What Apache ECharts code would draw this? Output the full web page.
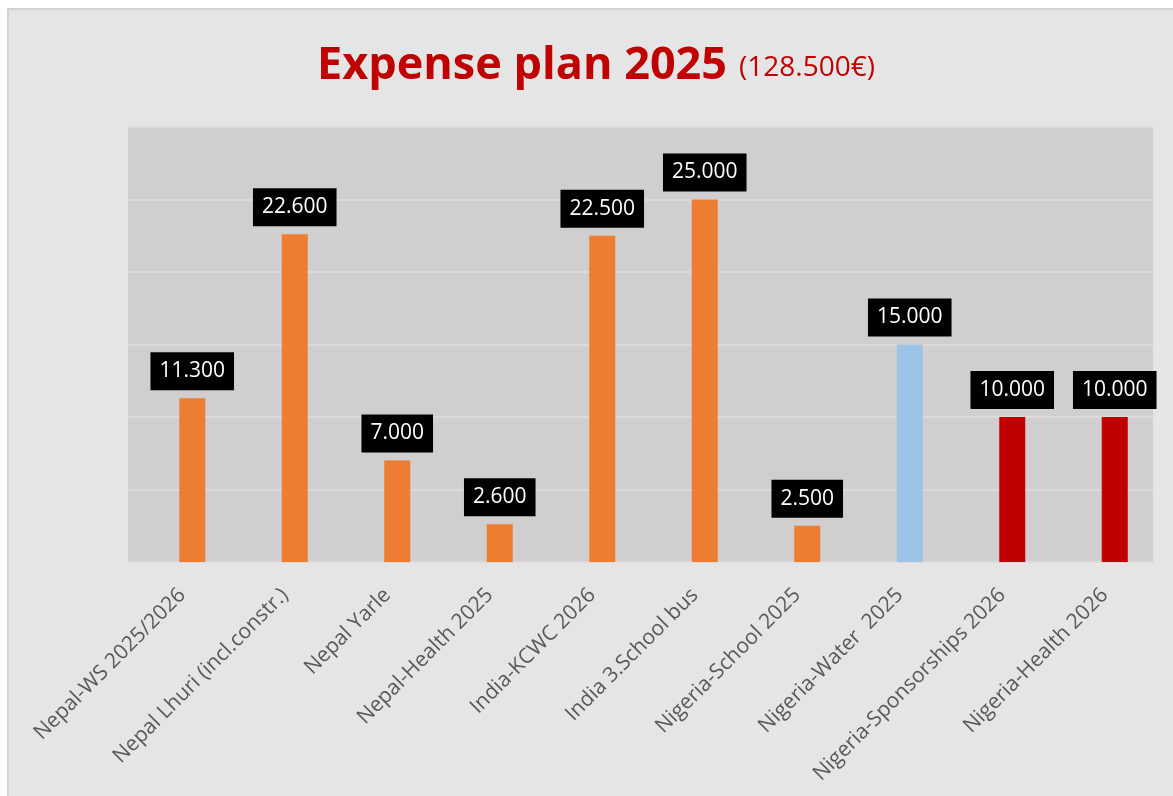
<!DOCTYPE html>
<html>
<head>
<meta charset="utf-8">
<script src="https://cdn.jsdelivr.net/npm/echarts@6/dist/echarts.min.js"></script>
<style>
html,body{margin:0;padding:0;background:#ffffff;}
#chart{width:1173px;height:796px;}
</style>
</head>
<body>
<div id="chart"></div>
<script>
const categories = ['Nepal-WS 2025/2026', 'Nepal Lhuri (incl.constr.)', 'Nepal Yarle', 'Nepal-Health 2025', 'India-KCWC 2026', 'India 3.School bus', 'Nigeria-School 2025', 'Nigeria-Water  2025', 'Nigeria-Sponsorships 2026', 'Nigeria-Health 2026'];
const values = [11300, 22600, 7000, 2600, 22500, 25000, 2500, 15000, 10000, 10000];
const titleText = 'Expense plan 2025';
const subtitleText = '(128.500€)';
const yMin = 0, yMax = 30000, yStep = 5000;

const barColors = ['#ED7D31','#ED7D31','#ED7D31','#ED7D31','#ED7D31','#ED7D31','#ED7D31','#9DC3E6','#C00000','#C00000'];

function fmt(v){
  return String(Math.round(v)).replace(/\B(?=(\d{3})+(?!\d))/g, '.');
}

const chart = echarts.init(document.getElementById('chart'), null, {renderer:'canvas'});
chart.setOption({
  backgroundColor: '#ffffff',
  animation: false,
  graphic: [{
    type: 'rect', z: -10, silent: true,
    shape: {x: 8, y: 9, width: 1173, height: 800},
    style: {fill: '#e5e5e5', stroke: '#d2d2d2', lineWidth: 2}
  }],
  title: {
    left: 591, top: 24, textAlign: 'center',
    text: '{a|' + titleText + '}{b|' + subtitleText + '}',
    textStyle: {
      rich: {
        a: {fontFamily: 'Open Sans', fontWeight: 'bold', fontSize: 45, color: '#C00000', lineHeight: 60, verticalAlign: 'bottom'},
        b: {fontFamily: 'Open Sans', fontWeight: 'normal', fontSize: 28, color: '#C00000', lineHeight: 60, verticalAlign: 'bottom', padding: [0,0,7,12]}
      }
    }
  },
  grid: [
    {left: 128, top: 127, width: 1025, height: 435, show: true, backgroundColor: '#d0cecf', borderWidth: 0, containLabel: false},
    {left: 141, top: 127, width: 1025, height: 435, containLabel: false}
  ],
  xAxis: [
    {gridIndex: 0, type: 'category', data: categories, show: false},
    {gridIndex: 1, type: 'category', data: categories,
     axisLine: {show: false}, axisTick: {show: false},
     axisLabel: {rotate: 45, interval: 0, margin: 20, color: '#595959', fontFamily: 'Open Sans', fontSize: 21, padding: [0, 14, 0, 0]}}
  ],
  yAxis: [
    {gridIndex: 0, type: 'value', min: yMin, max: yMax, interval: yStep,
     axisLine: {show: false}, axisTick: {show: false}, axisLabel: {show: false},
     splitLine: {show: true, lineStyle: {color: '#dcdada', width: 2}}},
    {gridIndex: 1, type: 'value', min: yMin, max: yMax, interval: yStep, show: false, splitLine: {show: false}}
  ],
  series: [{
    type: 'bar', xAxisIndex: 1, yAxisIndex: 1,
    barWidth: 26,
    data: values.map((v, i) => ({value: v, itemStyle: {color: barColors[i]}})),
    label: {
      show: true, position: 'top', distance: 8,
      formatter: p => fmt(p.value),
      backgroundColor: '#000000', color: '#ffffff',
      fontFamily: 'Open Sans', fontSize: 21, lineHeight: 24,
      padding: [7, 9, 7, 9]
    }
  }]
});
</script>
</body>
</html>
